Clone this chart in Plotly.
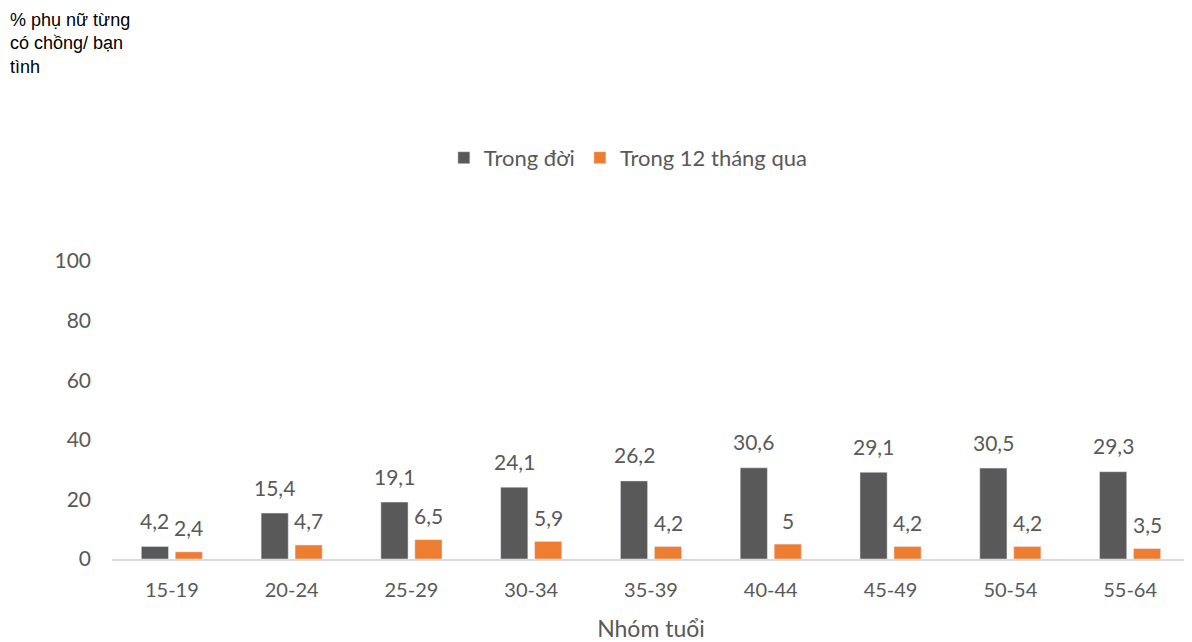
import plotly.graph_objects as go

categories = ["15-19", "20-24", "25-29", "30-34", "35-39", "40-44", "45-49", "50-54", "55-64"]
lifetime = [4.2, 15.4, 19.1, 24.1, 26.2, 30.6, 29.1, 30.5, 29.3]
last12 = [2.4, 4.7, 6.5, 5.9, 4.2, 5, 4.2, 4.2, 3.5]
series_names = ["Trong đời", "Trong 12 tháng qua"]
colors = ["#595959", "#ED7D31"]
y_ticks = [0, 20, 40, 60, 80, 100]

def fmt(v):
    return f"{v:g}".replace(".", ",")

FONT = "Lato, Open Sans, sans-serif"
GREY = "#595959"

fig = go.Figure()
for name, vals, col in zip(series_names, [lifetime, last12], colors):
    fig.add_trace(go.Bar(x=categories, y=vals, name=name, marker_color=col))

annotations = []
for vals, dx, dy in [(lifetime, -17, 26), (last12, 17, 24)]:
    for c, v in zip(categories, vals):
        annotations.append(dict(
            x=c, y=v, xref="x", yref="y", text=fmt(v), showarrow=False,
            xshift=dx, yshift=dy, yanchor="middle", xanchor="center",
            font=dict(size=21, color=GREY, family=FONT)))

annotations.append(dict(
    text="% phụ nữ từng<br>có chồng/ bạn<br>tình", xref="paper", yref="paper",
    x=-104/1078, y=1.0 + 253/298, xanchor="left", yanchor="top", showarrow=False,
    align="left", font=dict(family="Liberation Sans, Arial", size=18, color="black"),
))

fig.update_layout(
    width=1184, height=634,
    margin=dict(l=104, r=2, t=253, b=83, autoexpand=False),
    paper_bgcolor="white", plot_bgcolor="white",
    barmode="group", bargap=0.433, bargroupgap=0.2,
    font=dict(family=FONT, color=GREY, size=20),
    showlegend=True,
    legend=dict(orientation="h", x=0.479, xanchor="center", y=1.346, yanchor="middle",
                font=dict(size=22, color=GREY, family=FONT), traceorder="normal",
                itemwidth=30),
    xaxis=dict(showline=True, linecolor="#D9D9D9", linewidth=1.5, showgrid=False,
               ticks="", tickfont=dict(size=20, color=GREY), ticklabelstandoff=12,
               title=dict(text="Nhóm tuổi", font=dict(size=23, color=GREY), standoff=24),
               automargin=False),
    yaxis=dict(range=[0, 100], tickvals=y_ticks, showgrid=False, zeroline=False,
               showline=False, ticks="", tickfont=dict(size=21, color=GREY),
               ticklabelstandoff=20, automargin=False),
    annotations=annotations,
)

fig.write_html("out.html")
